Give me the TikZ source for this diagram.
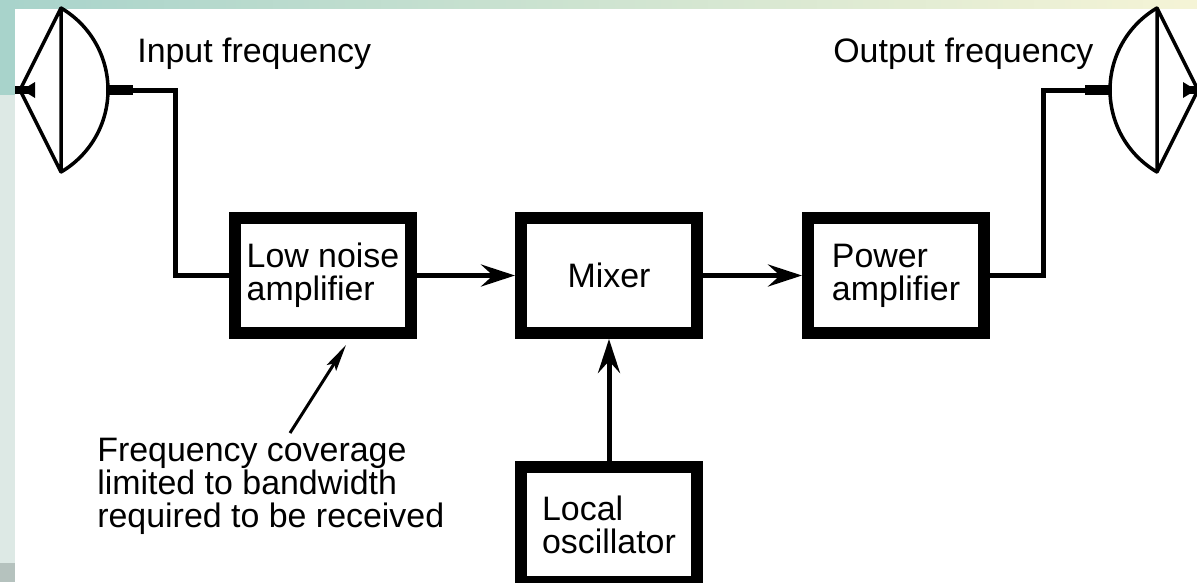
\documentclass[tikz,border=0pt]{standalone}
\usepackage{fontspec}
\setmainfont{Liberation Sans}
\usetikzlibrary{arrows.meta}

\definecolor{bgteal}{HTML}{A8D3CB}
\definecolor{bgpale}{HTML}{EDF2EC}
\definecolor{bgcream}{HTML}{F5F4D6}
\definecolor{bgmist}{HTML}{DDE9E5}
\definecolor{bggrey}{HTML}{B5C2BE}

\begin{document}
\begin{tikzpicture}[x=0.02cm, y=-0.02cm]
	\tikzstyle{every node}=[align=left, inner sep=0pt, font=\fontsize{19.3}{18.8}\selectfont]
	\tikzstyle{block}=[draw, line width=0.24cm, minimum width=3.52cm, minimum height=2.3cm]
	\tikzstyle{wire}=[line width=0.1cm]
	\tikzstyle{flow}=[wire, -{Stealth[length=0.68cm, width=0.44cm, inset=0.24cm]}]
	\tikzstyle{stub}=[line width=0.2cm]
	\tikzstyle{dish}=[line width=0.07cm, line join=round]
	\tikzstyle{pointer}=[line width=0.06cm, -{Stealth[length=0.54cm, width=0.22cm, inset=0.1cm]}]

	\useasboundingbox (0,0) rectangle (1197,582);
	\fill[white] (0,0) rectangle (1197,582);
	\shade[left color=bgteal, middle color=bgpale, right color=bgcream] (0,0) rectangle (1197,8);
	\fill[bgteal] (0,0) rectangle (15,95);
	\fill[bgmist] (0,95) rectangle (15,563);
	\fill[bggrey] (0,563) rectangle (15,582);

	\node[block] (LNA) at (323, 275.5) {Low noise\\amplifier};
	\node[block] (Mix) at (609, 275.5) {Mixer};
	\node[block] (PA) at (896, 275.5) {Power\\amplifier};
	\node[block] (LO) at (609, 524.5) {Local\\oscillator};

	\node[anchor=base west] (In) at (137, 62) {Input frequency};
	\node[anchor=base west] (Out) at (833, 62) {Output frequency};
	\node[anchor=north west] (Cover) at (97, 438) {Frequency coverage\\limited to bandwidth\\required to be received};

	\coordinate (InFeed) at (133, 90);
	\coordinate (OutFeed) at (1085, 90);
	\coordinate (CoverTail) at (290, 433);
	\coordinate (CoverTip) at (346, 345);

	\foreach \sx/\ox in {1/0, -1/1218} {
		\begin{scope}[xshift={\ox*0.02cm}, xscale=\sx]
			\draw[dish] (61, 8) -- (20, 90) -- (61, 172) -- cycle;
			\draw[dish] (61, 8) .. controls (90, 25) and (108, 56) .. (108, 90) .. controls (108, 124) and (90, 155) .. (61, 172);
			\fill (15, 86) rectangle (30, 94);
			\fill (35, 82) -- (22, 90) -- (35, 98) -- cycle;
		\end{scope}
	}

	\draw[stub] (108, 90) -- (InFeed);
	\draw[stub] (OutFeed) -- (1110, 90);
	\draw[wire] (InFeed) -- (175, 90) |- (LNA.west);
	\draw[wire] (PA.east) -| (1043, 90) -- (OutFeed);

	\draw[flow] (LNA) -- (Mix);
	\draw[flow] (Mix) -- (PA);
	\draw[flow] (LO) -- (Mix);
	\draw[pointer] (CoverTail) -- (CoverTip);
\end{tikzpicture}
\end{document}
